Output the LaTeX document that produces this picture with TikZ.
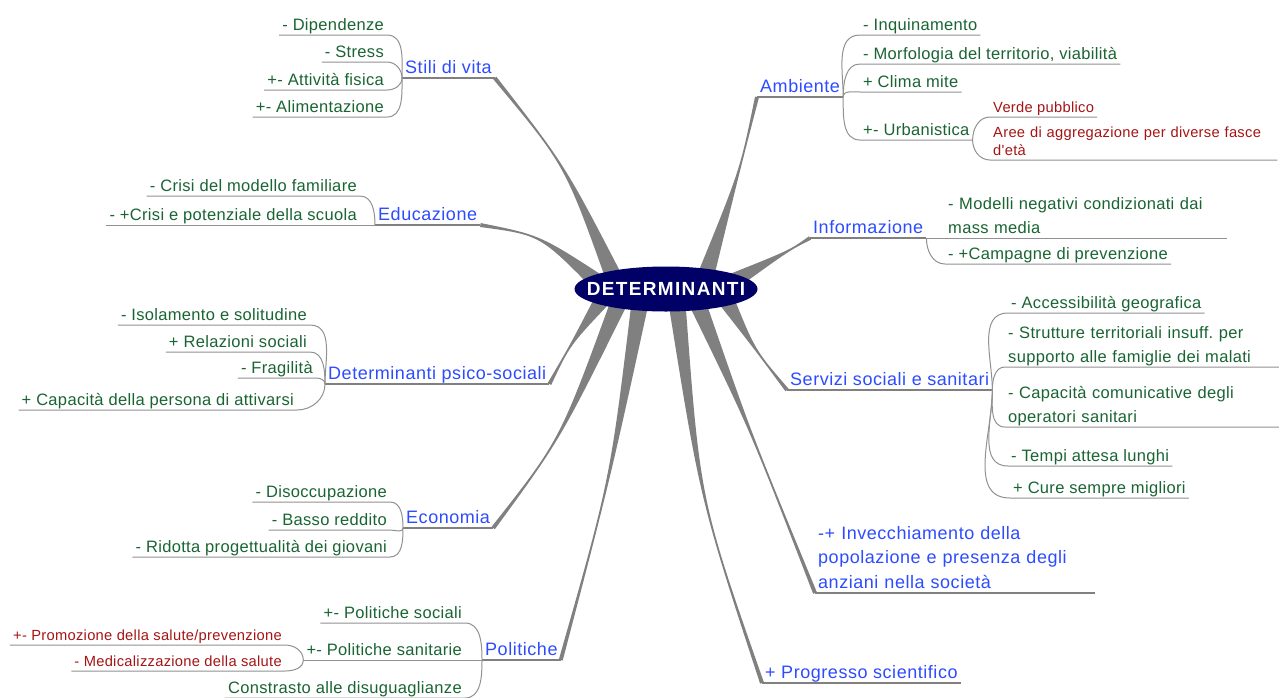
\documentclass[tikz,border=0pt]{standalone}
\usepackage{fontspec}
\setmainfont{Liberation Sans}
\newfontfamily\topicfont{Liberation Sans}[LetterSpace=3]
\newfontfamily\leaffont{Liberation Sans}[LetterSpace=2]
\newfontfamily\rootfont{Liberation Sans}[LetterSpace=7]
\usetikzlibrary{shapes.geometric, positioning, backgrounds, calc}
\definecolor{mapnavy}{RGB}{0,0,102}
\definecolor{mapblue}{RGB}{45,75,255}
\definecolor{mapgreen}{RGB}{25,100,50}
\definecolor{mapred}{RGB}{165,20,20}
\definecolor{mapgray}{RGB}{128,128,128}
\definecolor{twiggray}{RGB}{145,145,145}
\newcommand\lowstrut{\rule[-4pt]{0pt}{4pt}}
% tapered limb: start, end, control point
\newcommand\limb[3]{%
  \fill[limb] ($(#1)!8.5pt!90:(#3)$) .. controls (#3) .. ($(#2)!2pt!-90:(#3)$)
    -- ($(#2)!2pt!90:(#3)$) .. controls (#3) .. ($(#1)!8.5pt!-90:(#3)$) -- cycle;}

\begin{document}
\begin{tikzpicture}[
    x=1pt, y=1pt,
    root/.style={ellipse, fill=mapnavy, text=white, minimum width=183pt, minimum height=45pt, inner xsep=-15pt, inner ysep=0pt, font=\rootfont\bfseries\fontsize{19}{22}\selectfont},
    topic/.style={inner xsep=3pt, inner ysep=0.5pt, text=mapblue, align=left, font=\topicfont\fontsize{18}{24.5}\selectfont, execute at end node=\lowstrut},
    leaf/.style={inner xsep=3pt, inner ysep=0.5pt, text=mapgreen, align=left, font=\leaffont\fontsize{16.5}{24}\selectfont, execute at end node=\lowstrut},
    subleaf/.style={leaf, text=mapred, font=\leaffont\fontsize{14.7}{18}\selectfont},
    limb/.style={fill=mapgray},
    stem/.style={draw=mapgray, line width=2.5pt},
    twig/.style={draw=twiggray, line width=1pt}
]
\useasboundingbox (0,0) rectangle (1279,-697);

% Centre
\node[root] (root) at (666,-289) {DETERMINANTI};

% Topics, left
\node[topic, anchor=south west] (stili) at (402,-78) {Stili di vita};
\node[topic, anchor=south west] (edu) at (375,-225) {Educazione};
\node[topic, anchor=south west] (psico) at (325,-384) {Determinanti psico-sociali};
\node[topic, anchor=south west] (eco) at (403,-528) {Economia};
\node[topic, anchor=south west] (pol) at (482,-660) {Politiche};

% Topics, right
\node[topic, anchor=south west] (amb) at (757,-97) {Ambiente};
\node[topic, anchor=south west] (info) at (810,-238) {Informazione};
\node[topic, anchor=south west] (serv) at (787,-390) {Servizi sociali e sanitari};
\node[topic, anchor=south west, text width=274pt] (inv) at (815,-593) {-+ Invecchiamento della\\popolazione e presenza degli\\anziani nella società};
\node[topic, anchor=south west] (prog) at (762,-683) {+ Progresso scientifico};

% Limbs from the centre
\coordinate (s-stili) at ([shift={(-51,9)}]root.center);
\coordinate (s-edu) at ([shift={(-66,5)}]root.center);
\coordinate (s-psico) at ([shift={(-61,-7)}]root.center);
\coordinate (s-eco) at ([shift={(-46,-11)}]root.center);
\coordinate (s-pol) at ([shift={(-26,-14)}]root.center);
\coordinate (s-amb) at ([shift={(39,11)}]root.center);
\coordinate (s-info) at ([shift={(64,6)}]root.center);
\coordinate (s-serv) at ([shift={(59,-9)}]root.center);
\coordinate (s-inv) at ([shift={(31,-13)}]root.center);
\coordinate (s-prog) at ([shift={(11,-14)}]root.center);
\begin{scope}[on background layer]
\limb{s-stili}{stili.south east}{565,-165}
\limb{s-edu}{edu.south east}{540,-235}
\limb{s-psico}{psico.south east}{570,-345}
\limb{s-eco}{eco.south east}{560,-440}
\limb{s-pol}{pol.south east}{610,-480}
\limb{s-amb}{amb.south west}{740,-170}
\limb{s-info}{info.south west}{790,-250}
\limb{s-serv}{serv.south west}{755,-350}
\limb{s-inv}{inv.south west}{750,-430}
\limb{s-prog}{prog.south west}{700,-500}
\end{scope}
\foreach \t in {stili,edu,psico,eco,pol,amb,info,serv,inv,prog}
  \draw[stem] (\t.south west) -- (\t.south east);

% Stili di vita
\node[leaf, anchor=south east] (dip) at (387,-35) {- Dipendenze};
\node[leaf, anchor=south east] (stress) at (387,-62) {- Stress};
\node[leaf, anchor=south east] (fisica) at (387,-90) {+- Attività fisica};
\node[leaf, anchor=south east] (alim) at (387,-117) {+- Alimentazione};
\draw[twig] (dip.south west) -- (dip.south east) to[out=0,in=90] (stili.south west);
\draw[twig] (stress.south west) -- (stress.south east) to[out=0,in=90] (stili.south west);
\draw[twig] (fisica.south west) -- (fisica.south east) to[out=0,in=-90] (stili.south west);
\draw[twig] (alim.south west) -- (alim.south east) to[out=0,in=-90] (stili.south west);

% Educazione
\node[leaf, anchor=south east] (famiglia) at (360,-196) {- Crisi del modello familiare};
\node[leaf, anchor=south east] (scuola) at (360,-225) {- +Crisi e potenziale della scuola};
\draw[twig] (famiglia.south west) -- (famiglia.south east) to[out=0,in=90] (edu.south west);
\draw[twig] (scuola.south west) -- (edu.south west);

% Determinanti psico-sociali
\node[leaf, anchor=south east] (isol) at (310,-325) {- Isolamento e solitudine};
\node[leaf, anchor=south east] (rel) at (310,-352) {+ Relazioni sociali};
\node[leaf, anchor=south east] (frag) at (316,-378) {- Fragilità};
\node[leaf, anchor=south east] (attiva) at (297,-410) {+ Capacità della persona di attivarsi};
\draw[twig] (isol.south west) -- (isol.south east) to[out=0,in=90] (psico.south west);
\draw[twig] (rel.south west) -- (rel.south east) to[out=0,in=90] (psico.south west);
\draw[twig] (frag.south west) -- (frag.south east) to[out=0,in=90] (psico.south west);
\draw[twig] (attiva.south west) -- (attiva.south east) to[out=0,in=-90] (psico.south west);

% Economia
\node[leaf, anchor=south east] (disocc) at (390,-502) {- Disoccupazione};
\node[leaf, anchor=south east] (reddito) at (390,-530) {- Basso reddito};
\node[leaf, anchor=south east] (giovani) at (390,-557) {- Ridotta progettualità dei giovani};
\draw[twig] (disocc.south west) -- (disocc.south east) to[out=0,in=90] (eco.south west);
\draw[twig] (reddito.south west) -- (reddito.south east) to[out=0,in=-90] (eco.south west);
\draw[twig] (giovani.south west) -- (giovani.south east) to[out=0,in=-90] (eco.south west);

% Politiche
\node[leaf, anchor=south east] (polsoc) at (465,-623) {+- Politiche sociali};
\node[leaf, anchor=south east] (polsan) at (465,-660) {+- Politiche sanitarie};
\node[leaf, anchor=south east] (disug) at (465,-698) {Constrasto alle disuguaglianze};
\node[subleaf, anchor=south east] (promo) at (285,-645) {+- Promozione della salute/prevenzione};
\node[subleaf, anchor=south east] (medic) at (285,-671) {- Medicalizzazione della salute};
\draw[twig] (polsoc.south west) -- (polsoc.south east) to[out=0,in=90] (pol.south west);
\draw[twig] (polsan.south west) -- (pol.south west);
\draw[twig] (disug.south west) -- (disug.south east) to[out=0,in=-90] (pol.south west);
\draw[twig] (promo.south west) -- (promo.south east) to[out=0,in=90] (polsan.south west);
\draw[twig] (medic.south west) -- (medic.south east) to[out=0,in=-90] (polsan.south west);

% Ambiente
\node[leaf, anchor=south west] (inq) at (860,-35) {- Inquinamento};
\node[leaf, anchor=south west] (morf) at (860,-64) {- Morfologia del territorio, viabilità};
\node[leaf, anchor=south west] (clima) at (860,-92) {+ Clima mite};
\node[leaf, anchor=south west] (urb) at (860,-140) {+- Urbanistica};
\node[subleaf, anchor=south west] (verde) at (990,-117) {Verde pubblico};
\node[subleaf, anchor=south west, text width=281pt] (aree) at (990,-160) {Aree di aggregazione per diverse fasce\\d'età};
\draw[twig] (amb.south east) to[out=90,in=180] (inq.south west) -- (inq.south east);
\draw[twig] (amb.south east) to[out=90,in=180] (morf.south west) -- (morf.south east);
\draw[twig] (amb.south east) to[out=90,in=180] (clima.south west) -- (clima.south east);
\draw[twig] (amb.south east) to[out=-90,in=180] (urb.south west) -- (urb.south east);
\draw[twig] (urb.south east) to[out=90,in=180] (verde.south west) -- (verde.south east);
\draw[twig] (urb.south east) to[out=-90,in=180] (aree.south west) -- (aree.south east);

% Informazione
\node[leaf, anchor=south west, text width=276pt] (modelli) at (945,-238) {- Modelli negativi condizionati dai\\mass media};
\node[leaf, anchor=south west] (campagne) at (945,-264) {- +Campagne di prevenzione};
\draw[twig] (info.south east) -- (modelli.south east);
\draw[twig] (info.south east) to[out=-90,in=180] (campagne.south west) -- (campagne.south east);

% Servizi sociali e sanitari
\node[leaf, anchor=south west] (access) at (1008,-313) {- Accessibilità geografica};
\node[leaf, anchor=south west, text width=268pt] (strutt) at (1005,-367) {- Strutture territoriali insuff.\ per\\supporto alle famiglie dei malati};
\node[leaf, anchor=south west, text width=268pt] (capcom) at (1005,-427) {- Capacità comunicative degli\\operatori sanitari};
\node[leaf, anchor=south west] (tempi) at (1008,-466) {- Tempi attesa lunghi};
\node[leaf, anchor=south west] (cure) at (1010,-498) {+ Cure sempre migliori};
\draw[twig] (serv.south east) to[out=90,in=180] (access.south west) -- (access.south east);
\draw[twig] (serv.south east) to[out=90,in=180] (strutt.south west) -- (strutt.south east);
\draw[twig] (serv.south east) to[out=-90,in=180] (capcom.south west) -- (capcom.south east);
\draw[twig] (serv.south east) to[out=-90,in=180] (tempi.south west) -- (tempi.south east);
\draw[twig] (serv.south east) to[out=-90,in=180] (cure.south west) -- (cure.south east);
\end{tikzpicture}
\end{document}
